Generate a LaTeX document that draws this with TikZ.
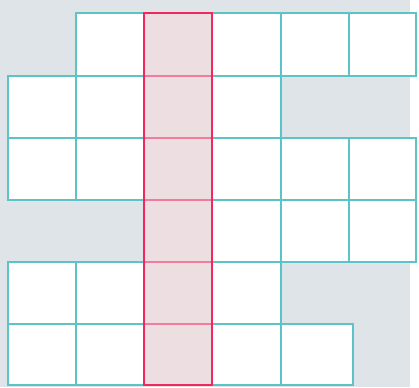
\documentclass[tikz,border=0pt]{standalone}
\definecolor{bg}{HTML}{DEE4E7}
\definecolor{tealline}{HTML}{5CC3C8}
\definecolor{pinkfill}{HTML}{EDDEE2}
\definecolor{pinkedge}{HTML}{F0285E}
\definecolor{pinkinner}{HTML}{F37C9C}
\begin{document}
\begin{tikzpicture}[x=1pt,y=-1pt,
  cell/.style={fill=white,draw=tealline,line width=2.3pt},
  pinkrow/.style={draw=pinkinner,line width=1.5pt},
  pinkcol/.style={draw=pinkedge,line width=2.7pt}]
\useasboundingbox (0,0) rectangle (419,387);
\fill[white] (0,0) rectangle (419,387);
\fill[bg] (0,0) rectangle (410,387);
\foreach \i/\x in {0/8,1/76,2/144,3/212,4/281,5/349,6/416}
  \foreach \j/\y in {0/13,1/76,2/138,3/200,4/262,5/324,6/385}
    \coordinate (p\i-\j) at (\x,\y);
\coordinate (q5-6) at (353,385);
\foreach \c/\r [evaluate=\c as \cc using int(\c+1), evaluate=\r as \rr using int(\r+1)] in
  {1/0,3/0,4/0,5/0,
   0/1,1/1,3/1,
   0/2,1/2,3/2,4/2,5/2,
   3/3,4/3,5/3,
   0/4,1/4,3/4,
   0/5,1/5,3/5}
  \draw[cell] (p\c-\r) rectangle (p\cc-\rr);
\draw[cell] (p4-5) rectangle (q5-6);
\fill[pinkfill] (p2-0) rectangle (p3-6);
\foreach \r in {1,...,5}
  \draw[pinkrow] (p2-\r) -- (p3-\r);
\draw[pinkcol] (p2-0) rectangle (p3-6);
\end{tikzpicture}
\end{document}
